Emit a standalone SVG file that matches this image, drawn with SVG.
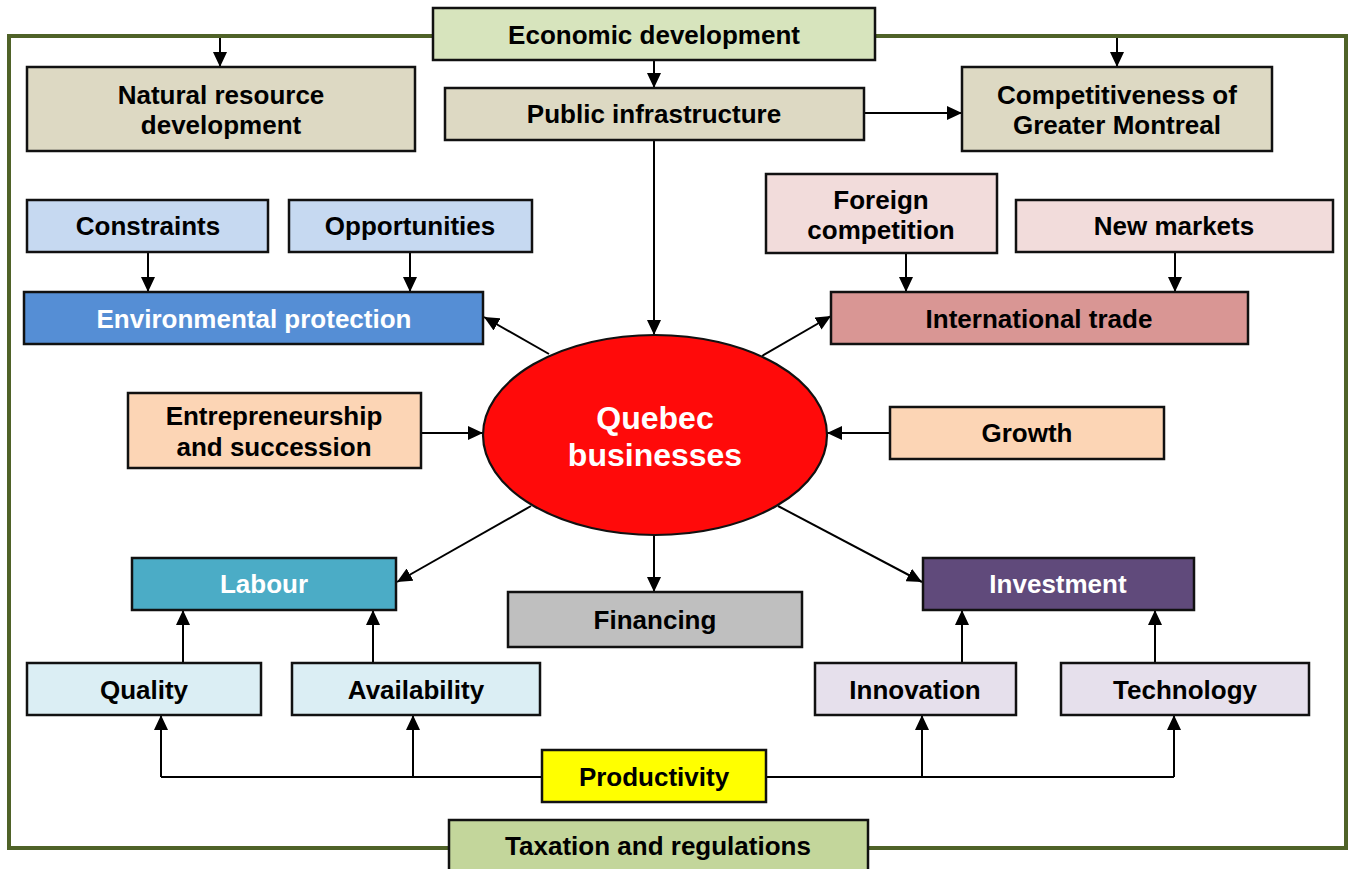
<svg xmlns="http://www.w3.org/2000/svg" width="1351" height="869" viewBox="0 0 1351 869">
<defs>
<marker id="ah" markerUnits="userSpaceOnUse" markerWidth="15" markerHeight="14" refX="15" refY="7" orient="auto">
<path d="M0,0 L15,7 L0,14 z" fill="#000"/>
</marker>
<style>
.b{stroke:#111;stroke-width:2.5}
.t{font-family:"Liberation Sans",Arial,sans-serif;font-weight:bold;font-size:26px;text-anchor:middle;fill:#000}
.w{fill:#fff}
.c{fill:none;stroke:#000;stroke-width:2;marker-end:url(#ah)}
.l{fill:none;stroke:#000;stroke-width:2}
</style>
</defs>
<rect width="1351" height="869" fill="#fff"/>
<rect id="frame" x="9" y="36" width="1337" height="812" fill="none" stroke="#4F6228" stroke-width="4"/>
<g id="connectors">
<line class="c" x1="654" y1="60" x2="654" y2="88"/>
<line class="c" x1="220" y1="38" x2="220" y2="67"/>
<line class="c" x1="1117" y1="38" x2="1117" y2="67"/>
<line class="c" x1="864" y1="113" x2="962" y2="113"/>
<line class="c" x1="654" y1="140" x2="654" y2="335"/>
<line class="c" x1="148" y1="252" x2="148" y2="292"/>
<line class="c" x1="410" y1="252" x2="410" y2="292"/>
<line class="c" x1="906" y1="253" x2="906" y2="292"/>
<line class="c" x1="1175" y1="252" x2="1175" y2="292"/>
<line class="c" x1="549" y1="354" x2="484" y2="317"/>
<line class="c" x1="762" y1="356" x2="831" y2="316"/>
<line class="c" x1="421" y1="433" x2="483" y2="433"/>
<line class="c" x1="890" y1="433" x2="827" y2="433"/>
<line class="c" x1="531" y1="506" x2="397" y2="582"/>
<line class="c" x1="654" y1="535" x2="654" y2="592"/>
<line class="c" x1="778" y1="506" x2="922" y2="582"/>
<line class="c" x1="183" y1="663" x2="183" y2="610"/>
<line class="c" x1="373" y1="663" x2="373" y2="610"/>
<line class="c" x1="962" y1="663" x2="962" y2="610"/>
<line class="c" x1="1155" y1="663" x2="1155" y2="610"/>
<polyline class="l" points="542,777 161,777"/>
<polyline class="l" points="766,777 1174,777"/>
<line class="c" x1="161" y1="777" x2="161" y2="715"/>
<line class="c" x1="413" y1="777" x2="413" y2="715"/>
<line class="c" x1="922" y1="777" x2="922" y2="715"/>
<line class="c" x1="1174" y1="777" x2="1174" y2="715"/>
</g>
<g id="economic"><rect class="b" x="433" y="8" width="442" height="52" fill="#D7E4BD"/><text class="t" x="654" y="44">Economic development</text></g>
<g id="natural"><rect class="b" x="27" y="67" width="388" height="84" fill="#DDD9C3"/><text class="t" x="221" y="104">Natural resource</text><text class="t" x="221" y="134">development</text></g>
<g id="public"><rect class="b" x="445" y="88" width="419" height="52" fill="#DDD9C3"/><text class="t" x="654" y="123">Public infrastructure</text></g>
<g id="competitiveness"><rect class="b" x="962" y="67" width="310" height="84" fill="#DDD9C3"/><text class="t" x="1117" y="104">Competitiveness of</text><text class="t" x="1117" y="134">Greater Montreal</text></g>
<g id="constraints"><rect class="b" x="27" y="200" width="241" height="52" fill="#C6D9F1"/><text class="t" x="148" y="235">Constraints</text></g>
<g id="opportunities"><rect class="b" x="289" y="200" width="243" height="52" fill="#C6D9F1"/><text class="t" x="410" y="235">Opportunities</text></g>
<g id="environment"><rect class="b" x="24" y="292" width="459" height="52" fill="#558ED5"/><text class="t w" x="254" y="328">Environmental protection</text></g>
<g id="foreign"><rect class="b" x="766" y="174" width="231" height="79" fill="#F2DCDB"/><text class="t" x="881" y="209">Foreign</text><text class="t" x="881" y="239">competition</text></g>
<g id="newmarkets"><rect class="b" x="1016" y="200" width="317" height="52" fill="#F2DCDB"/><text class="t" x="1174" y="235">New markets</text></g>
<g id="trade"><rect class="b" x="831" y="292" width="417" height="52" fill="#D99694"/><text class="t" x="1039" y="328">International trade</text></g>
<g id="entrepreneurship"><rect class="b" x="128" y="393" width="293" height="75" fill="#FCD5B5"/><text class="t" x="274" y="425">Entrepreneurship</text><text class="t" x="274" y="456">and succession</text></g>
<g id="quebec"><ellipse cx="655" cy="435" rx="172" ry="100" fill="#FF0A0A" stroke="#111" stroke-width="2.2"/><text class="t w" x="655" y="429" style="font-size:32px">Quebec</text><text class="t w" x="655" y="466" style="font-size:32px">businesses</text></g>
<g id="growth"><rect class="b" x="890" y="407" width="274" height="52" fill="#FCD5B5"/><text class="t" x="1027" y="442">Growth</text></g>
<g id="labour"><rect class="b" x="132" y="558" width="264" height="52" fill="#4BACC6"/><text class="t w" x="264" y="593">Labour</text></g>
<g id="financing"><rect class="b" x="508" y="592" width="294" height="55" fill="#BFBFBF"/><text class="t" x="655" y="629">Financing</text></g>
<g id="investment"><rect class="b" x="923" y="558" width="271" height="52" fill="#604A7B"/><text class="t w" x="1058" y="593">Investment</text></g>
<g id="quality"><rect class="b" x="27" y="663" width="234" height="52" fill="#DBEEF4"/><text class="t" x="144" y="699">Quality</text></g>
<g id="availability"><rect class="b" x="292" y="663" width="248" height="52" fill="#DBEEF4"/><text class="t" x="416" y="699">Availability</text></g>
<g id="innovation"><rect class="b" x="815" y="663" width="201" height="52" fill="#E6E0EC"/><text class="t" x="915" y="699">Innovation</text></g>
<g id="technology"><rect class="b" x="1061" y="663" width="248" height="52" fill="#E6E0EC"/><text class="t" x="1185" y="699">Technology</text></g>
<g id="productivity"><rect class="b" x="542" y="750" width="224" height="52" fill="#FFFF00"/><text class="t" x="654" y="786">Productivity</text></g>
<g id="taxation"><rect class="b" x="449" y="820" width="419" height="60" fill="#C3D69B"/><text class="t" x="658" y="855">Taxation and regulations</text></g>
</svg>
